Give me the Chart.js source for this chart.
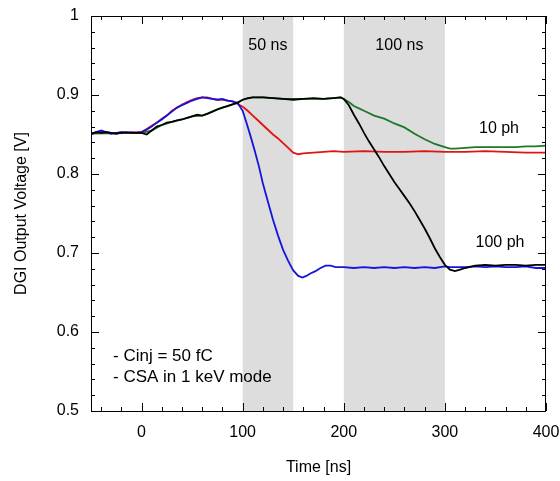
<!DOCTYPE html>
<html>
<head>
<meta charset="utf-8">
<script src="https://cdn.jsdelivr.net/npm/chart.js@4"></script>
<style>
  body { margin: 0; background: #fff; }
</style>
</head>
<body>
<canvas id="dgiChart" width="560" height="481"></canvas>
<script>

/*VERILER*/
var xTicks = [0, 100, 200, 300, 400];
var yTicks = [0.5, 0.6, 0.7, 0.8, 0.9, 1];
var yTickLabels = ["0.5", "0.6", "0.7", "0.8", "0.9", "1"];
var shadeBands = [[100, 150], [200, 300]];

var blueT = [-50,-45,-40,-35,-30,-25,-20,-15,-10,-5,0,5,10,15,20,25,30,35,40,45,50,55,60,65,70,75,80,85,90,95,
  100,104,108,112,116,120,125,130,135,140,145,150,155,159,163,167,172,177,182,187,192,200,210,220,230,240,250,260,270,280,290,
  300,305,310,320,330,340,350,360,370,380,390,400];
var blueV = [0.850,0.853,0.855,0.853,0.851,0.852,0.853,0.852,0.853,0.852,0.853,0.856,0.860,0.865,0.869,0.874,0.879,0.884,0.887,0.890,0.893,0.895,0.897,0.896,0.895,0.894,0.895,0.893,0.892,0.890,
  0.880,0.864,0.847,0.829,0.810,0.788,0.765,0.742,0.722,0.704,0.690,0.678,0.671,0.669,0.671,0.674,0.677,0.681,0.684,0.684,0.682,0.682,0.681,0.682,0.681,0.682,0.681,0.682,0.681,0.682,0.681,
  0.683,0.682,0.682,0.682,0.683,0.682,0.683,0.682,0.682,0.683,0.681,0.681];

var redT = [-50,-45,-40,-35,-30,-25,-20,-15,-10,-5,0,5,10,15,20,25,30,35,40,45,50,55,60,65,70,75,80,85,90,95,
  100,105,110,115,120,125,130,135,140,145,150,155,160,170,180,190,200,220,240,260,280,300,320,340,360,380,400];
var redV = [0.851,0.852,0.854,0.853,0.852,0.851,0.853,0.852,0.852,0.853,0.853,0.857,0.861,0.865,0.870,0.874,0.880,0.884,0.888,0.891,0.894,0.896,0.897,0.897,0.895,0.894,0.894,0.893,0.892,0.889,
  0.885,0.880,0.874,0.868,0.862,0.856,0.850,0.845,0.839,0.833,0.827,0.825,0.826,0.827,0.828,0.829,0.828,0.829,0.828,0.828,0.829,0.828,0.828,0.829,0.828,0.827,0.827];

var blackT = [-50,-45,-40,-35,-30,-25,-20,-15,-10,-5,0,5,10,15,20,25,30,35,40,45,50,55,60,65,70,75,80,85,90,95,
  100,105,110,120,130,140,150,160,170,180,190,197,200,205,210,215,220,225,230,235,240,245,250,255,260,265,270,275,280,285,290,295,
  300,305,310,315,320,330,340,350,360,370,380,390,400];
var blackV = [0.851,0.853,0.852,0.853,0.852,0.851,0.852,0.853,0.852,0.852,0.852,0.850,0.855,0.860,0.862,0.865,0.866,0.868,0.869,0.871,0.873,0.875,0.874,0.876,0.879,0.882,0.884,0.886,0.888,0.890,
  0.894,0.896,0.897,0.897,0.896,0.895,0.894,0.895,0.896,0.895,0.896,0.897,0.895,0.887,0.875,0.864,0.852,0.841,0.831,0.821,0.810,0.800,0.790,0.781,0.772,0.763,0.753,0.742,0.731,0.719,0.706,0.695,
  0.685,0.679,0.677,0.679,0.681,0.684,0.685,0.684,0.685,0.685,0.684,0.685,0.685];

var greenT = [-50,0,10,20,30,40,50,60,70,80,90,100,110,120,140,160,180,197,
  200,205,210,215,220,230,240,250,260,270,280,290,300,305,310,320,330,340,350,360,370,380,390,400];
var greenV = [0.851,0.852,0.855,0.862,0.866,0.869,0.873,0.874,0.879,0.884,0.888,0.894,0.897,0.897,0.895,0.895,0.895,0.897,
  0.895,0.891,0.886,0.883,0.880,0.874,0.870,0.864,0.859,0.851,0.844,0.838,0.834,0.832,0.832,0.833,0.834,0.834,0.834,0.834,0.834,0.835,0.835,0.836];
/*VERILER*/

var yaziTipi = "'Liberation Sans', Arial, sans-serif";

function noktalar(t, v) {
  var dizi = [];
  for (var i = 0; i < t.length; i++) {
    dizi.push({x: t[i], y: v[i]});
  }
  return dizi;
}

/*ARKA PLAN, CERCEVE VE YAZILAR*/
var ciziciEklenti = {
  id: "cizici",
  beforeDatasetsDraw: function (chart) {
    var ctx = chart.ctx, a = chart.chartArea, sx = chart.scales.x;
    ctx.save();
    ctx.fillStyle = "#dcdddc";
    for (var i = 0; i < shadeBands.length; i++) {
      var x1 = sx.getPixelForValue(shadeBands[i][0]);
      var x2 = sx.getPixelForValue(shadeBands[i][1]);
      ctx.fillRect(x1, a.top, x2 - x1, a.bottom - a.top);
    }
    ctx.restore();
  },
  afterDatasetsDraw: function (chart) {
    var ctx = chart.ctx, a = chart.chartArea, sx = chart.scales.x, sy = chart.scales.y;
    ctx.save();
    ctx.strokeStyle = "#000";
    ctx.lineWidth = 1;
    ctx.strokeRect(a.left + 0.5, a.top + 0.5, a.right - a.left - 1, a.bottom - a.top);

    // x ekseni tikleri (ic tarafa)
    ctx.beginPath();
    for (var t = -40; t <= 400; t += 20) {
      var px = Math.round(sx.getPixelForValue(t)) + 0.5;
      var uz = (t % 100 === 0) ? 8 : 4;
      ctx.moveTo(px, a.bottom); ctx.lineTo(px, a.bottom - uz);
      ctx.moveTo(px, a.top); ctx.lineTo(px, a.top + uz);
    }
    // y ekseni tikleri
    for (var k = 0; k <= 25; k++) {
      var v = 0.5 + k * 0.02;
      var py = Math.round(sy.getPixelForValue(v)) + 0.5;
      var uy = (k % 5 === 0) ? 8 : 4;
      ctx.moveTo(a.left, py); ctx.lineTo(a.left + uy, py);
      ctx.moveTo(a.right, py); ctx.lineTo(a.right - uy, py);
    }
    ctx.stroke();

    ctx.fillStyle = "#000";
    ctx.font = "16px " + yaziTipi;
    ctx.textAlign = "center";
    ctx.textBaseline = "alphabetic";
    ctx.fillText("50 ns", sx.getPixelForValue(125), 50);
    ctx.fillText("100 ns", sx.getPixelForValue(255), 50);
    ctx.fillText("10 ph", 499, 133);
    ctx.fillText("100 ph", 500, 247);
    ctx.textAlign = "left";
    ctx.font = "17px " + yaziTipi;
    ctx.fillText("- Cinj = 50 fC", 113, 361);
    ctx.fillText("- CSA in 1 keV mode", 113, 382);
    ctx.restore();
  }
};
/*ARKA PLAN, CERCEVE VE YAZILAR*/

var ctx = document.getElementById("dgiChart");
var myChart = new Chart(ctx, {
  type: "line",
  data: {
    datasets: [{
      label: "black",
      data: noktalar(blackT, blackV),
      borderColor: "#000000",
      borderWidth: 1.8,
      pointRadius: 0,
      tension: 0
    },{
      label: "blue",
      data: noktalar(blueT, blueV),
      borderColor: "#1414dc",
      borderWidth: 1.8,
      pointRadius: 0,
      tension: 0
    },{
      label: "red",
      data: noktalar(redT, redV),
      borderColor: "#e01414",
      borderWidth: 1.8,
      pointRadius: 0,
      tension: 0
    },{
      label: "green",
      data: noktalar(greenT, greenV),
      borderColor: "#1e7828",
      borderWidth: 1.8,
      pointRadius: 0,
      tension: 0
    }]
  },
  options: {
    responsive: false,
    animation: false,
    layout: { padding: { top: 16, right: 14, left: 0, bottom: 0 } },
    plugins: {
      legend: { display: false },
      tooltip: { enabled: false }
    },
    scales: {
      x: {
        type: "linear",
        min: -50,
        max: 400,
        afterBuildTicks: function (s) {
          s.ticks = xTicks.map(function (v) { return {value: v}; });
        },
        afterFit: function (s) {
          s.height = 70;
          s.paddingLeft = 0;
          s.paddingRight = 0;
        },
        grid: { display: false, drawTicks: false },
        border: { display: false },
        ticks: {
          color: "#000",
          padding: 12,
          maxRotation: 0,
          font: { family: yaziTipi, size: 16 },
          callback: function (v) { return String(v); }
        },
        title: {
          display: true,
          text: "Time [ns]",
          color: "#000",
          padding: { top: 0, bottom: 4 },
          font: { family: yaziTipi, size: 16 }
        }
      },
      y: {
        type: "linear",
        min: 0.5,
        max: 1,
        afterBuildTicks: function (s) {
          s.ticks = yTicks.map(function (v) { return {value: v}; });
        },
        afterFit: function (s) {
          s.width = 91;
          s.paddingTop = 0;
          s.paddingBottom = 0;
        },
        grid: { display: false, drawTicks: false },
        border: { display: false },
        ticks: {
          color: "#000",
          padding: 12,
          font: { family: yaziTipi, size: 16 },
          callback: function (v, i) { return yTickLabels[i]; }
        },
        title: {
          display: true,
          text: "DGI Output Voltage [V]",
          color: "#000",
          padding: { top: 12, bottom: 0 },
          font: { family: yaziTipi, size: 16 }
        }
      }
    }
  },
  plugins: [ciziciEklenti]
});

</script>
</body>
</html>
